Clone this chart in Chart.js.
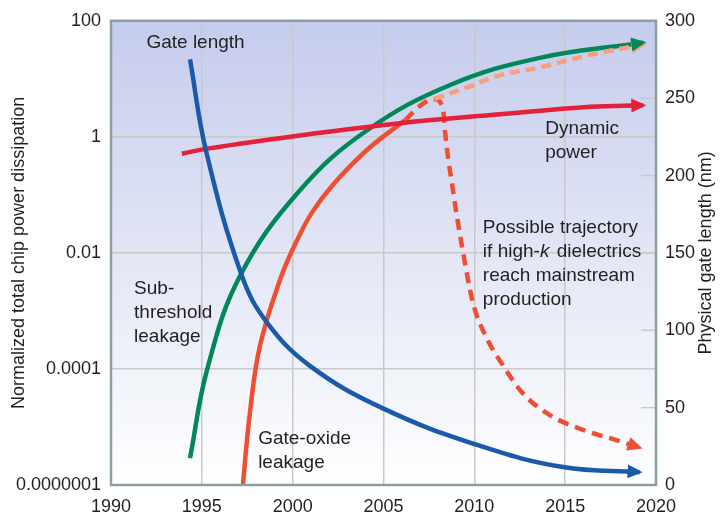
<!DOCTYPE html>
<html>
<head>
<meta charset="utf-8">
<script src="https://cdn.jsdelivr.net/npm/chart.js@4.4.1/dist/chart.umd.min.js"></script>
<style>
  html, body { margin: 0; padding: 0; background: #fff; }
  #wrap { width: 725px; height: 525px; }
</style>
</head>
<body>
<div id="wrap"><canvas id="powerChart"></canvas></div>
<script>
// values (x = year)
const gateLenYears = [1994.35, 1995.23, 1997.21, 1998.59, 2000.95, 2004.97, 2010.2, 2014.88, 2019.1];
const gateLenNm    = [275, 216, 135, 105, 77, 49.5, 25.7, 11.6, 8.3];

const dynYears = [1993.9, 1995.2, 2001.0, 2005.9, 2011.4, 2016.4, 2019.3];
const dynPower = [0.51, 0.62, 1.12, 1.72, 2.45, 3.3, 3.5];

const subYears = [1994.35, 1995.3, 1997.1, 2000.4, 2004.1, 2008.7, 2013.6, 2019.3];
const subLeak  = [2.9e-6, 1.0e-4, 4.0e-3, 0.12, 1.3, 7.9, 23, 42];

const oxYears = [1997.26, 1997.65, 1998.2, 1999.3, 2000.13, 2001.06, 2002.22, 2004.09, 2006.18];
const oxLeak  = [1.0e-6, 1.8e-5, 2.5e-4, 3.4e-3, 1.4e-2, 4.95e-2, 0.15, 0.594, 1.94];

// dashed: gate-oxide leakage continuing without high-k
const oxContYears = [2007.8, 2009.6, 2011.4, 2013.5, 2016.4, 2019.3];
const oxContLeak  = [4.5, 7.1, 11.5, 15.5, 26, 39];

// dashed: possible trajectory with high-k dielectrics
const highkYears = [2006.2, 2007.0, 2007.75, 2008.27, 2008.38, 2008.55, 2008.77, 2009.04, 2009.32, 2009.92, 2010.7, 2011.4, 2012.67, 2014.16, 2015.98, 2017.85, 2019.1];
const highkLeak  = [1.95, 3.4, 4.5, 3.2, 1.3, 0.45, 0.155, 0.043, 0.013, 1.4e-3, 3.3e-4, 1.4e-4, 3.8e-5, 1.6e-5, 8.9e-6, 5.9e-6, 4.4e-6];

const yLeftTickValues = [1e-6, 1e-4, 1e-2, 1, 100];
const yLeftTickLabels = ['0.0000001', '0.0001', '0.01', '1', '100'];

const toPoints = (xs, ys) => xs.map((x, i) => ({ x: x, y: ys[i] }));

const FONT = "'Liberation Sans', Arial, sans-serif";
const TEXT = '#231f20';

const notes = [
  { lines: [[['Gate length', false]]], year: 1991.95, nm: 286 },
  { lines: [[['Dynamic', false]], [['power', false]]], year: 2013.9, nm: 230 },
  { lines: [[['Sub-', false]], [['threshold', false]], [['leakage', false]]], year: 1991.27, nm: 126.5 },
  { lines: [[['Gate-oxide', false]], [['leakage', false]]], year: 1998.1, nm: 30.2 },
  { lines: [
      [['Possible trajectory', false]],
      [['if high-', false], ['k', true], [' dielectrics', false]],
      [['reach mainstream', false]],
      [['production', false]]
    ], year: 2010.47, nm: 166.3 }
];

const backdrop = {
  id: 'backdrop',
  beforeDraw(chart) {
    const { ctx, chartArea: a } = chart;
    const g = ctx.createLinearGradient(0, a.top, 0, a.bottom);
    g.addColorStop(0, '#c5ccec');
    g.addColorStop(1, '#ffffff');
    ctx.save();
    ctx.fillStyle = g;
    ctx.fillRect(a.left, a.top, a.right - a.left, a.bottom - a.top);
    ctx.restore();
  },
  beforeDatasetsDraw(chart) {
    // short inner tick marks for the right axis
    const { ctx, chartArea: a } = chart;
    const yr = chart.scales.yRight;
    ctx.save();
    ctx.strokeStyle = '#c9c9c9';
    ctx.lineWidth = 1.5;
    yr.ticks.forEach(t => {
      if (t.value <= 0 || t.value >= 300) return;
      const y = yr.getPixelForValue(t.value);
      ctx.beginPath();
      ctx.moveTo(a.right - 15, y);
      ctx.lineTo(a.right, y);
      ctx.stroke();
    });
    ctx.restore();
  }
};

const arrowHeads = {
  id: 'arrowHeads',
  afterDatasetsDraw(chart) {
    const ctx = chart.ctx;
    chart.data.datasets.forEach((ds, i) => {
      if (!ds.arrow) return;
      const pts = chart.getDatasetMeta(i).data;
      const p = pts[pts.length - 1];
      let qx = p.cp1x, qy = p.cp1y;
      if (qx === undefined || (Math.abs(qx - p.x) < 0.5 && Math.abs(qy - p.y) < 0.5)) {
        qx = pts[pts.length - 2].x; qy = pts[pts.length - 2].y;
      }
      let dx = p.x - qx, dy = p.y - qy;
      const len = Math.hypot(dx, dy) || 1;
      dx /= len; dy /= len;
      const tipX = p.x + dx * 3, tipY = p.y + dy * 3;
      const bx = p.x - dx * 12, by = p.y - dy * 12;
      ctx.save();
      ctx.fillStyle = ds.borderColor;
      ctx.beginPath();
      ctx.moveTo(tipX, tipY);
      ctx.lineTo(bx - dy * 7, by + dx * 7);
      ctx.lineTo(bx + dy * 7, by - dx * 7);
      ctx.closePath();
      ctx.fill();
      ctx.restore();
    });
  }
};

const labelsAndFrame = {
  id: 'labelsAndFrame',
  afterDraw(chart) {
    const { ctx, chartArea: a } = chart;
    const sx = chart.scales.x, sy = chart.scales.yRight;
    ctx.save();
    // frame
    ctx.strokeStyle = '#8b9ea6';
    ctx.lineWidth = 2.5;
    ctx.strokeRect(a.left, a.top, a.right - a.left, a.bottom - a.top);

    // notes inside the plot
    ctx.fillStyle = TEXT;
    ctx.textBaseline = 'middle';
    ctx.textAlign = 'left';
    notes.forEach(n => {
      const x0 = sx.getPixelForValue(n.year);
      let y = sy.getPixelForValue(n.nm);
      n.lines.forEach(segs => {
        let x = x0;
        segs.forEach(([txt, it]) => {
          ctx.font = (it ? 'italic ' : '') + '19px ' + FONT;
          ctx.fillText(txt, x, y);
          x += ctx.measureText(txt).width + (it ? 2 : 0);
        });
        y += 24;
      });
    });

    // axis titles, both reading bottom to top
    ctx.font = '18px ' + FONT;
    ctx.textAlign = 'center';
    const cy = (a.top + a.bottom) / 2;
    [[19, 'Normalized total chip power dissipation'], [706, 'Physical gate length (nm)']].forEach(([x, t]) => {
      ctx.save();
      ctx.translate(x, cy);
      ctx.rotate(-Math.PI / 2);
      ctx.fillText(t, 0, 0);
      ctx.restore();
    });
    ctx.restore();
  }
};

const line = (data, color, axis, extra) => Object.assign({
  data: data,
  borderColor: color,
  backgroundColor: color,
  borderWidth: 4.5,
  pointRadius: 0,
  fill: false,
  tension: 0.4,
  yAxisID: axis,
  arrow: false
}, extra || {});

const tickFont = { family: FONT, size: 18 };

new Chart(document.getElementById('powerChart'), {
  type: 'line',
  data: {
    datasets: [
      line(toPoints(gateLenYears, gateLenNm), '#1b5aa9', 'yRight', { arrow: true }),
      line(toPoints(dynYears, dynPower), '#e4203b', 'yLeft', { arrow: true }),
      line(toPoints(oxContYears, oxContLeak), '#f6a07d', 'yLeft', { arrow: true, borderDash: [10, 6] }),
      line(toPoints(highkYears, highkLeak), '#f04e33', 'yLeft', { arrow: true, borderDash: [11, 7], cubicInterpolationMode: 'monotone' }),
      line(toPoints(oxYears, oxLeak), '#f04e33', 'yLeft'),
      line(toPoints(subYears, subLeak), '#00885b', 'yLeft', { arrow: true })
    ]
  },
  options: {
    responsive: true,
    maintainAspectRatio: false,
    animation: false,
    layout: { padding: { top: 18, left: 0, right: 0, bottom: 0 } },
    plugins: { legend: { display: false }, tooltip: { enabled: false } },
    scales: {
      x: {
        type: 'linear',
        min: 1990,
        max: 2020,
        afterFit: s => { s.height = 40; },
        ticks: { stepSize: 5, color: TEXT, font: tickFont, padding: 11, maxRotation: 0, callback: v => String(v) },
        grid: { color: '#c9c9c9', lineWidth: 1.5, drawTicks: false },
        border: { display: false }
      },
      yLeft: {
        type: 'logarithmic',
        position: 'left',
        min: 1e-6,
        max: 100,
        afterFit: s => { s.width = 111; },
        afterBuildTicks: s => { s.ticks = yLeftTickValues.map(v => ({ value: v })); },
        ticks: {
          autoSkip: false,
          color: TEXT,
          font: tickFont,
          padding: 10,
          callback: v => yLeftTickLabels[yLeftTickValues.findIndex(t => Math.abs(Math.log10(t) - Math.log10(v)) < 1e-6)]
        },
        grid: { color: '#c9c9c9', lineWidth: 1.5, drawTicks: false },
        border: { display: false }
      },
      yRight: {
        type: 'linear',
        position: 'right',
        min: 0,
        max: 300,
        afterFit: s => { s.width = 69; },
        ticks: { stepSize: 50, color: TEXT, font: tickFont, padding: 9 },
        grid: { drawOnChartArea: false, drawTicks: false },
        border: { display: false }
      }
    }
  },
  plugins: [backdrop, arrowHeads, labelsAndFrame]
});
</script>
</body>
</html>
